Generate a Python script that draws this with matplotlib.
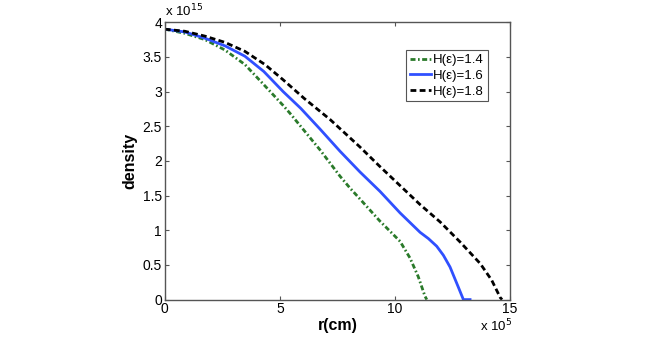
import numpy as np
import matplotlib
matplotlib.use('Agg')
import matplotlib.pyplot as plt

plt.rcParams['font.family'] = ['Liberation Sans', 'DejaVu Sans']

# r in units of 1e5 cm, density in units of 1e15
r_14 = [0, 0.87, 1.74, 2.61, 3.48, 4.3, 5.14, 5.43, 6.74, 7.61, 8.04, 8.48, 9.35, 10.22, 10.65, 11.01, 11.30, 11.38]
d_14 = [3.90, 3.84, 3.75, 3.60, 3.39, 3.10, 2.80, 2.69, 2.16, 1.78, 1.61, 1.45, 1.13, 0.84, 0.60, 0.33, 0.05, 0.0]

r_16 = [0, 0.87, 1.74, 2.61, 3.48, 4.3, 5.14, 5.9, 6.74, 7.61, 8.48, 9.35, 10.22, 11.09, 11.45, 11.81, 12.1, 12.39, 12.75, 12.97, 13.26]
d_16 = [3.90, 3.86, 3.77, 3.66, 3.51, 3.29, 3.00, 2.76, 2.46, 2.14, 1.84, 1.56, 1.25, 0.97, 0.88, 0.77, 0.64, 0.47, 0.18, 0.0, 0.0]

r_18 = [0, 0.87, 1.74, 2.61, 3.48, 4.35, 5.14, 6.06, 7.17, 8.48, 9.31, 10.2, 11.09, 11.96, 12.83, 13.70, 14.2, 14.57, 14.65]
d_18 = [3.90, 3.87, 3.80, 3.71, 3.58, 3.39, 3.17, 2.90, 2.60, 2.20, 1.93, 1.65, 1.37, 1.12, 0.83, 0.52, 0.28, 0.03, 0.0]

labels = ['H(ε)=1.4', 'H(ε)=1.6', 'H(ε)=1.8']
xticks = [0, 5, 10, 15]
yticks = [0, 0.5, 1, 1.5, 2, 2.5, 3, 3.5, 4]
ytick_labels = ['0', '0.5', '1', '1.5', '2', '2.5', '3', '3.5', '4']

fig = plt.figure(figsize=(6.54, 3.37), dpi=100)
ax = fig.add_axes([0.252, 0.111, 0.528, 0.823])

ax.plot(r_14, d_14, color='#2a7a2a', linestyle=(0, (1.8, 0.9, 0.6, 0.9)), linewidth=2,
        label=labels[0], dash_joinstyle='round')
ax.plot(r_16, d_16, color='#3050ff', linestyle='-', linewidth=2,
        label=labels[1], solid_joinstyle='round')
ax.plot(r_18, d_18, color='black', linestyle=(0, (2.1, 1.2)), linewidth=2,
        label=labels[2], dash_joinstyle='round')

ax.set_xlim(0, 15)
ax.set_ylim(0, 4)
ax.set_xticks(xticks)
ax.set_xticklabels([str(t) for t in xticks])
ax.set_yticks(yticks)
ax.set_yticklabels(ytick_labels)
ax.tick_params(direction='in', top=True, right=True, length=3, width=0.8,
               color='#555555', labelsize=10, pad=2)
for s in ax.spines.values():
    s.set_color('#555555')
    s.set_linewidth(1)

ax.set_xlabel('r(cm)', fontsize=11.5, fontweight='bold', labelpad=1)
ax.set_ylabel('density', fontsize=11.5, fontweight='bold', labelpad=4)

ax.text(0.0, 1.012, r'x 10$^{15}$', transform=ax.transAxes, fontsize=9.5,
        ha='left', va='bottom')
ax.text(1.005, -0.065, r'x 10$^{5}$', transform=ax.transAxes, fontsize=9.5,
        ha='right', va='top')

leg = ax.legend(loc='upper right', bbox_to_anchor=(0.936, 0.899), fontsize=9.5,
                handlelength=1.6, handletextpad=0.2, borderpad=0.3,
                labelspacing=0.25, fancybox=False, framealpha=1, borderaxespad=0)
leg.get_frame().set_edgecolor('#555555')
leg.get_frame().set_linewidth(0.8)

fig.savefig('out.png', dpi=100)
